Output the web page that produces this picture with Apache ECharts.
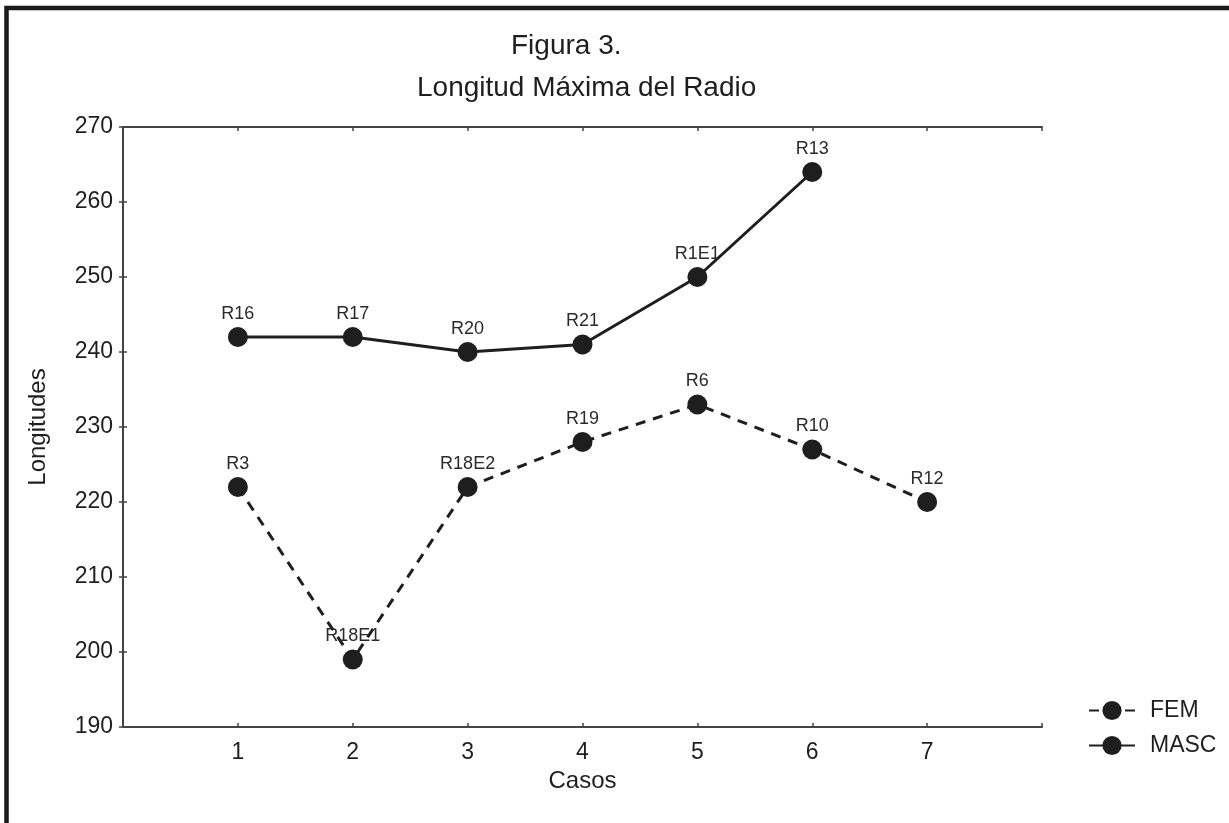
<!DOCTYPE html>
<html>
<head>
<meta charset="utf-8">
<script src="https://cdn.jsdelivr.net/npm/echarts@6/dist/echarts.min.js"></script>
<style>
html,body{margin:0;padding:0;background:#fff;}
#chart{width:1229px;height:823px;}
</style>
</head>
<body>
<div id="chart"></div>
<script>
const cases = [1, 2, 3, 4, 5, 6, 7];
const femValues = [222, 199, 222, 228, 233, 227, 220];
const femLabels = ['R3', 'R18E1', 'R18E2', 'R19', 'R6', 'R10', 'R12'];
const mascValues = [242, 242, 240, 241, 250, 264];
const mascLabels = ['R16', 'R17', 'R20', 'R21', 'R1E1', 'R13'];
const yTicks = [190, 200, 210, 220, 230, 240, 250, 260, 270];
const titleLine1 = 'Figura 3.';
const titleLine2 = 'Longitud Máxima del Radio';

const FONT = '"Liberation Sans", Arial, sans-serif';
const INK = '#1e1e1e';

const chart = echarts.init(document.getElementById('chart'));

function build(values, labels) {
  return values.map((v, i) => ({ value: [cases[i], v], name: labels[i] }));
}

const axisLine = { show: true, lineStyle: { color: '#444', width: 2 } };

chart.setOption({
  animation: false,
  backgroundColor: '#fff',
  textStyle: { fontFamily: FONT },
  title: [
    { text: titleLine1, left: 506, top: 27, textStyle: { fontFamily: FONT, fontSize: 28, fontWeight: 'normal', color: INK } },
    { text: titleLine2, left: 412, top: 69, textStyle: { fontFamily: FONT, fontSize: 28, fontWeight: 'normal', color: INK } }
  ],
  graphic: [
    { type: 'rect', silent: true, z: 100,
      shape: { x: 6.5, y: 8, width: 1300, height: 900 },
      style: { fill: 'none', stroke: '#1a1a1a', lineWidth: 4.5 } }
  ],
  legend: {
    orient: 'vertical',
    left: 1083,
    top: 694,
    itemWidth: 46,
    itemHeight: 24,
    itemGap: 12,
    textStyle: { fontFamily: FONT, fontSize: 23, color: INK, padding: [0, 0, 0, 10] },
    data: ['FEM', 'MASC']
  },
  grid: { left: 123, top: 127, right: 187, bottom: 96, containLabel: false },
  xAxis: [
    {
      type: 'value', min: 0, max: 8, interval: 1, position: 'bottom',
      name: 'Casos', nameLocation: 'middle', nameGap: 33,
      nameTextStyle: { fontFamily: FONT, fontSize: 24, color: INK },
      axisLine: axisLine,
      axisTick: { show: true, inside: true, length: 4, lineStyle: { color: '#444', width: 1.5 } },
      axisLabel: { fontFamily: FONT, fontSize: 23, color: INK, margin: 14,
        formatter: v => (cases.indexOf(v) >= 0 ? String(v) : '') },
      splitLine: { show: false }
    },
    {
      type: 'value', min: 0, max: 8, interval: 1, position: 'top',
      axisLine: axisLine,
      axisTick: { show: true, inside: true, length: 4, lineStyle: { color: '#444', width: 1.5 } },
      axisLabel: { show: false },
      splitLine: { show: false }
    }
  ],
  yAxis: [
    {
      type: 'value', min: yTicks[0], max: yTicks[yTicks.length - 1], interval: 10, position: 'left',
      name: 'Longitudes', nameLocation: 'middle', nameGap: 73,
      nameTextStyle: { fontFamily: FONT, fontSize: 24, color: INK },
      axisLine: axisLine,
      axisTick: { show: true, inside: true, length: 4, lineStyle: { color: '#444', width: 1.5 } },
      axisLabel: { fontFamily: FONT, fontSize: 23, color: INK, margin: 10 },
      splitLine: { show: false }
    },
    {
      type: 'value', min: yTicks[0], max: yTicks[yTicks.length - 1], interval: 10, position: 'right',
      axisLine: axisLine,
      axisTick: { show: true, inside: true, length: 4, lineStyle: { color: '#444', width: 1.5 } },
      axisLabel: { show: false },
      splitLine: { show: false }
    }
  ],
  series: [
    {
      name: 'FEM', type: 'line', xAxisIndex: 0, yAxisIndex: 0,
      data: build(femValues, femLabels),
      symbol: 'circle', symbolSize: 20,
      itemStyle: { color: INK },
      lineStyle: { color: INK, width: 3, type: [10, 8] },
      label: { show: true, position: 'top', distance: 4, formatter: '{b}',
        fontFamily: FONT, fontSize: 18, color: '#2a2a2a' }
    },
    {
      name: 'MASC', type: 'line', xAxisIndex: 0, yAxisIndex: 0,
      data: build(mascValues, mascLabels),
      symbol: 'circle', symbolSize: 20,
      itemStyle: { color: INK },
      lineStyle: { color: INK, width: 3, type: 'solid' },
      label: { show: true, position: 'top', distance: 4, formatter: '{b}',
        fontFamily: FONT, fontSize: 18, color: '#2a2a2a' }
    }
  ]
});
</script>
</body>
</html>
